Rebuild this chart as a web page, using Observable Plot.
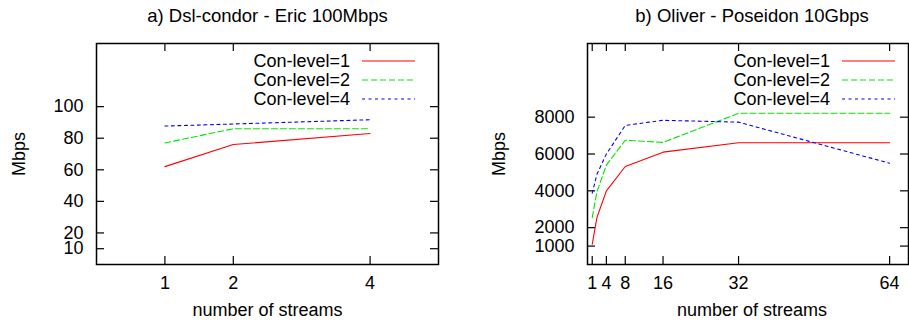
<!DOCTYPE html>
<html><head><meta charset="utf-8">
<script src="https://cdn.jsdelivr.net/npm/d3@7"></script>
<script src="https://cdn.jsdelivr.net/npm/@observablehq/plot@0.6"></script>
<style>
body{margin:0;background:#fff;}
#wrap{position:relative;width:909px;height:325px;overflow:hidden;font-family:"Liberation Sans",Arial,sans-serif;background:#fff;}
.leg{position:absolute;font-size:18px;line-height:20px;color:#000;white-space:nowrap;text-align:right;}
.legline{position:absolute;overflow:visible;}
</style></head><body><div id="wrap"></div>
<script>
// ---- data ----
const titles = ["a) Dsl-condor - Eric 100Mbps", "b) Oliver - Poseidon 10Gbps"];
const xLabel = "number of streams";
const yLabel = "Mbps";
const seriesNames = ["Con-level=1", "Con-level=2", "Con-level=4"];
const seriesColors = ["#ff0000", "#00e600", "#0000ff"];
const seriesDash = [null, "6,3", "3,3.5"];

const streamsA = [1, 2, 4];
const aLevel1 = [62, 76, 83];
const aLevel2 = [77, 86, 86];
const aLevel4 = [87.7, 89, 91.7];
const xTicksA = [1, 2, 4];
const yTicksA = [10, 20, 40, 60, 80, 100];

const streamsB = [1, 2, 4, 8, 16, 32, 64];
const bLevel1 = [1100, 2550, 4000, 5320, 6100, 6610, 6610];
const bLevel2 = [2550, 3950, 5400, 6750, 6630, 8210, 8210];
const bLevel4 = [3870, 4900, 6000, 7550, 7830, 7730, 5500];
const xTicksB = [1, 4, 8, 16, 32, 64];
const yTicksB = [1000, 2000, 4000, 6000, 8000];

// ---- drawing ----
const H = 325, MT = 43, MB = 61, TICK = 8, FS = 18;
const FONT = "Liberation Sans, Arial, sans-serif";
const wrap = document.getElementById("wrap");

function panel({left, width, marginLeft, marginRight, streams, series, xDomain, yDomain, xTicks, yTicks, title, titleDx, yLabelDx, legTextRight, legLineLeft}) {
  const innerW = width - marginLeft - marginRight;
  const innerH = H - MT - MB;
  const lines = series.map((vals, k) => Plot.line(
    streams.map((x, i) => ({x, y: vals[i]})),
    {x: "x", y: "y", stroke: seriesColors[k], strokeWidth: 1.1, strokeDasharray: seriesDash[k]}
  ));
  const svg = Plot.plot({
    width, height: H, marginLeft, marginRight, marginTop: MT, marginBottom: MB,
    style: {fontFamily: FONT, fontSize: FS + "px", color: "#000", background: "transparent", overflow: "visible"},
    x: {domain: xDomain},
    y: {domain: yDomain},
    marks: [
      Plot.axisX(xTicks, {tickSize: 0, tickPadding: 12, label: null, tickFormat: d3.format("d")}),
      Plot.axisY(yTicks, {tickSize: 0, tickPadding: 13, label: null, tickFormat: d3.format("d")}),
      Plot.tickX(xTicks, {x: d => d, insetTop: innerH - TICK, stroke: "#000", strokeWidth: 1.2}),
      Plot.tickX(xTicks, {x: d => d, insetBottom: innerH - TICK, stroke: "#000", strokeWidth: 1.2}),
      Plot.tickY(yTicks, {y: d => d, insetRight: innerW - TICK, stroke: "#000", strokeWidth: 1.2}),
      Plot.tickY(yTicks, {y: d => d, insetLeft: innerW - TICK, stroke: "#000", strokeWidth: 1.2}),
      ...lines,
      Plot.frame({stroke: "#000", strokeWidth: 1.5}),
      Plot.text([title], {frameAnchor: "top", textAnchor: "middle", lineAnchor: "middle", dy: -27, dx: titleDx, fontSize: 18.5}),
      Plot.text([xLabel], {frameAnchor: "bottom", textAnchor: "middle", lineAnchor: "middle", dy: 46, dx: titleDx, fontSize: FS}),
      Plot.text([yLabel], {frameAnchor: "left", textAnchor: "middle", lineAnchor: "middle", rotate: -90, dx: yLabelDx, fontSize: FS})
    ]
  });
  svg.style.position = "absolute";
  svg.style.left = left + "px";
  svg.style.top = "0px";
  wrap.appendChild(svg);

  // legend
  const rowsY = [61.3, 80, 98.7];
  seriesNames.forEach((name, k) => {
    const t = document.createElement("div");
    t.className = "leg";
    t.textContent = name;
    t.style.right = (909 - legTextRight) + "px";
    t.style.top = (rowsY[k] - 10) + "px";
    wrap.appendChild(t);
    const ns = "http://www.w3.org/2000/svg";
    const s = document.createElementNS(ns, "svg");
    s.setAttribute("class", "legline");
    s.setAttribute("width", 54);
    s.setAttribute("height", 4);
    s.style.left = legLineLeft + "px";
    s.style.top = (rowsY[k] - 2) + "px";
    const l = document.createElementNS(ns, "line");
    l.setAttribute("x1", 0); l.setAttribute("x2", 53);
    l.setAttribute("y1", 2); l.setAttribute("y2", 2);
    l.setAttribute("stroke", seriesColors[k]);
    l.setAttribute("stroke-width", 1.1);
    if (seriesDash[k]) l.setAttribute("stroke-dasharray", seriesDash[k]);
    s.appendChild(l);
    wrap.appendChild(s);
  });
}

panel({left: 0, width: 454, marginLeft: 96, marginRight: 16,
  streams: streamsA, series: [aLevel1, aLevel2, aLevel4],
  xDomain: [0, 5], yDomain: [0, 140], xTicks: xTicksA, yTicks: yTicksA,
  title: titles[0], titleDx: 0, yLabelDx: -77, legTextRight: 350, legLineLeft: 362});

panel({left: 454, width: 455, marginLeft: 133, marginRight: 1,
  streams: streamsB, series: [bLevel1, bLevel2, bLevel4],
  xDomain: [0, 68], yDomain: [0, 12000], xTicks: xTicksB, yTicks: yTicksB,
  title: titles[1], titleDx: 4, yLabelDx: -88, legTextRight: 830, legLineLeft: 842});
</script></body></html>
